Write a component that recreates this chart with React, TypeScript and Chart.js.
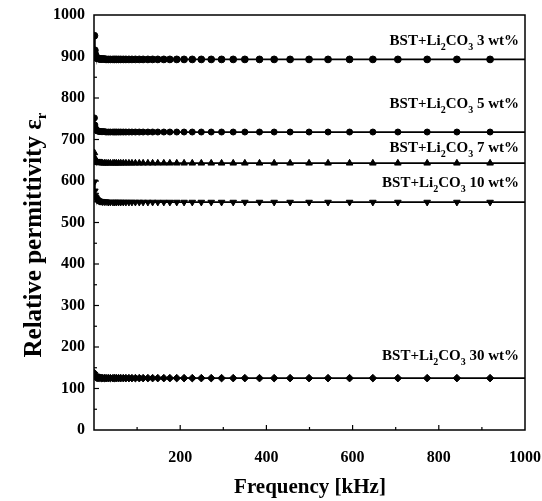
import React, { useEffect, useRef } from "react";
import { Chart, registerables } from "chart.js";

Chart.register(...registerables);

const frequencies = [
  1, 2, 3, 4, 5, 6, 7, 8, 10, 12, 14, 17, 20, 24, 28, 33, 38, 44, 48, 52, 57, 62, 68, 74, 81, 88,
  96, 105, 114, 125, 136, 148, 162, 176, 192, 209, 228, 249, 272, 296, 323, 350, 384, 418, 455,
  499, 543, 593, 647, 705, 773, 842, 919, 1000,
];

const wt3 = [
  950, 915, 905, 900, 898, 897, 896, 896, 895, 895,
  894, 894, 894, 894, 893, 893, 893, 893, 893, 893,
  893, 893, 893, 893, 893, 893, 893, 893, 893, 893,
  893, 893, 893, 893, 893, 893, 893, 893, 893, 893,
  893, 893, 893, 893, 893, 893, 893, 893, 893, 893,
  893, 893, 893, 893,
];
const wt5 = [
  752, 735, 728, 725, 723, 722, 721, 721, 720, 720,
  719, 719, 719, 719, 718, 718, 718, 718, 718, 718,
  718, 718, 718, 718, 718, 718, 718, 718, 718, 718,
  718, 718, 718, 718, 718, 718, 718, 718, 718, 718,
  718, 718, 718, 718, 718, 718, 718, 718, 718, 718,
  718, 718, 718, 718,
];
const wt7 = [
  668, 656, 651, 648, 647, 646, 645, 645, 644, 644,
  644, 644, 643, 643, 643, 643, 643, 643, 643, 643,
  643, 643, 643, 643, 643, 643, 643, 643, 643, 643,
  643, 643, 643, 643, 643, 643, 643, 643, 643, 643,
  643, 643, 643, 643, 643, 643, 643, 643, 643, 643,
  643, 643, 643, 643,
];
const wt10 = [
  598, 576, 566, 561, 558, 556, 555, 554, 553, 552,
  551, 551, 550, 550, 550, 549, 549, 549, 549, 549,
  549, 549, 549, 549, 549, 549, 549, 549, 549, 549,
  549, 549, 549, 549, 549, 549, 549, 549, 549, 549,
  549, 549, 549, 549, 549, 549, 549, 549, 549, 549,
  549, 549, 549, 549,
];
const wt30 = [
  137, 131, 129, 128, 127, 127, 126, 126, 126, 126,
  126, 125, 125, 125, 125, 125, 125, 125, 125, 125,
  125, 125, 125, 125, 125, 125, 125, 125, 125, 125,
  125, 125, 125, 125, 125, 125, 125, 125, 125, 125,
  125, 125, 125, 125, 125, 125, 125, 125, 125, 125,
  125, 125, 125, 125,
];

const seriesPercents = ["3", "5", "7", "10", "30"];
const seriesValues = [wt3, wt5, wt7, wt10, wt30];
const labelAnchors = [928, 776, 670, 586, 169];

const xMajorTicks = [200, 400, 600, 800];
const xMinorTicks = [100, 300, 500, 700, 900];
const yMajorTicks = [100, 200, 300, 400, 500, 600, 700, 800, 900];
const yMinorTicks = [50, 150, 250, 350, 450, 550, 650, 750, 850, 950];

const FONT = '"Liberation Serif", "Times New Roman", serif';

const markerStyles = [
  { style: "circle", radius: 3.4, rotation: 0 },
  { style: "circle", radius: 3, rotation: 0 },
  { style: "triangle", radius: 3.8, rotation: 0 },
  { style: "triangle", radius: 3.8, rotation: 180 },
  { style: "rectRot", radius: 3.8, rotation: 0 },
];

function drawSeriesLabel(ctx: CanvasRenderingContext2D, xRight: number, baseline: number, pct: string) {
  const main = `bold 15px ${FONT}`;
  const sub = `bold 10px ${FONT}`;
  const parts: { t: string; f: string; dy: number }[] = [
    { t: "BST+Li", f: main, dy: 0 },
    { t: "2", f: sub, dy: 5 },
    { t: "CO", f: main, dy: 0 },
    { t: "3", f: sub, dy: 5 },
    { t: ` ${pct} wt%`, f: main, dy: 0 },
  ];
  let total = 0;
  for (const p of parts) {
    ctx.font = p.f;
    total += ctx.measureText(p.t).width;
  }
  let x = xRight - total;
  ctx.textAlign = "left";
  ctx.textBaseline = "alphabetic";
  for (const p of parts) {
    ctx.font = p.f;
    ctx.fillText(p.t, x, baseline + p.dy);
    x += ctx.measureText(p.t).width;
  }
}

const decorPlugin = {
  id: "decor",
  afterDraw(chart: any) {
    const { ctx, chartArea, scales } = chart;
    const { left, right, top, bottom } = chartArea;
    const xs = scales.x;
    const ys = scales.y;
    ctx.save();
    ctx.strokeStyle = "#000";
    ctx.fillStyle = "#000";
    ctx.lineWidth = 1.5;
    ctx.strokeRect(left, top, right - left, bottom - top);
    ctx.lineWidth = 1.2;
    const tick = (x1: number, y1: number, x2: number, y2: number) => {
      ctx.beginPath();
      ctx.moveTo(x1, y1);
      ctx.lineTo(x2, y2);
      ctx.stroke();
    };
    xMajorTicks.forEach((v) => {
      const px = xs.getPixelForValue(v);
      tick(px, bottom, px, bottom - 5);
    });
    xMinorTicks.forEach((v) => {
      const px = xs.getPixelForValue(v);
      tick(px, bottom, px, bottom - 3);
    });
    yMajorTicks.forEach((v) => {
      const py = ys.getPixelForValue(v);
      tick(left, py, left + 5, py);
    });
    yMinorTicks.forEach((v) => {
      const py = ys.getPixelForValue(v);
      tick(left, py, left + 3, py);
    });

    const xRight = xs.getPixelForValue(1000) - 6;
    seriesPercents.forEach((pct, i) => {
      drawSeriesLabel(ctx, xRight, ys.getPixelForValue(labelAnchors[i]), pct);
    });

    // x title
    ctx.font = `bold 21px ${FONT}`;
    ctx.textAlign = "center";
    ctx.textBaseline = "middle";
    ctx.fillText("Frequency [kHz]", 310, 488);

    // y title (rotated) with subscript
    ctx.save();
    ctx.translate(33, 235);
    ctx.rotate(-Math.PI / 2);
    const mainT = "Relative permittivity \u03B5";
    ctx.font = `bold 25px ${FONT}`;
    const w1 = ctx.measureText(mainT).width;
    ctx.font = `bold 15px ${FONT}`;
    const w2 = ctx.measureText("r").width;
    const start = -(w1 + w2) / 2;
    ctx.textAlign = "left";
    ctx.textBaseline = "alphabetic";
    ctx.font = `bold 25px ${FONT}`;
    ctx.fillText(mainT, start, 8);
    ctx.font = `bold 15px ${FONT}`;
    ctx.fillText("r", start + w1, 13);
    ctx.restore();

    ctx.restore();
  },
};

export default function App() {
  const ref = useRef<HTMLCanvasElement | null>(null);
  useEffect(() => {
    if (!ref.current) return;
    const datasets = seriesValues.map((vals, i) => {
      const m = markerStyles[i];
      const last = vals.length - 1;
      return {
        label: `${seriesPercents[i]} wt%`,
        data: frequencies.map((f, j) => ({ x: f, y: vals[j] })),
        borderColor: "#000",
        backgroundColor: "#000",
        borderWidth: 1.8,
        pointStyle: m.style,
        pointRotation: m.rotation,
        pointRadius: (c: any) => (c.dataIndex === last ? 0 : m.radius),
        pointBorderWidth: 1,
        pointBackgroundColor: "#000",
        pointBorderColor: "#000",
        fill: false,
        tension: 0,
      };
    });
    const chart = new Chart(ref.current, {
      type: "line",
      data: { datasets } as any,
      options: {
        animation: false,
        responsive: false,
        layout: { padding: { top: 15, right: 17, left: 0, bottom: 0 } },
        plugins: { legend: { display: false }, tooltip: { enabled: false } },
        scales: {
          x: {
            type: "linear",
            min: 0,
            max: 1000,
            grid: { display: false, drawTicks: false },
            border: { display: false },
            ticks: {
              stepSize: 200,
              autoSkip: false,
              maxRotation: 0,
              padding: 18,
              color: "#000",
              font: { family: FONT, size: 16, weight: "bold" },
              callback: (v: any) => (v === 0 ? "" : String(v)),
            },
            afterFit: (s: any) => {
              s.height = 71;
              s.paddingLeft = 0;
              s.paddingRight = 0;
            },
          },
          y: {
            type: "linear",
            min: 0,
            max: 1000,
            grid: { display: false, drawTicks: false },
            border: { display: false },
            ticks: {
              stepSize: 100,
              autoSkip: false,
              padding: 9,
              color: "#000",
              font: { family: FONT, size: 16, weight: "bold" },
              callback: (v: any) => String(v),
            },
            afterFit: (s: any) => {
              s.width = 94;
              s.paddingTop = 0;
              s.paddingBottom = 0;
            },
          },
        },
      } as any,
      plugins: [decorPlugin],
    });
    return () => chart.destroy();
  }, []);
  return (
    <div style={{ position: "absolute", left: 0, top: 0, width: 542, height: 501 }}>
      <canvas ref={ref} width={542} height={501} style={{ display: "block" }} />
    </div>
  );
}
